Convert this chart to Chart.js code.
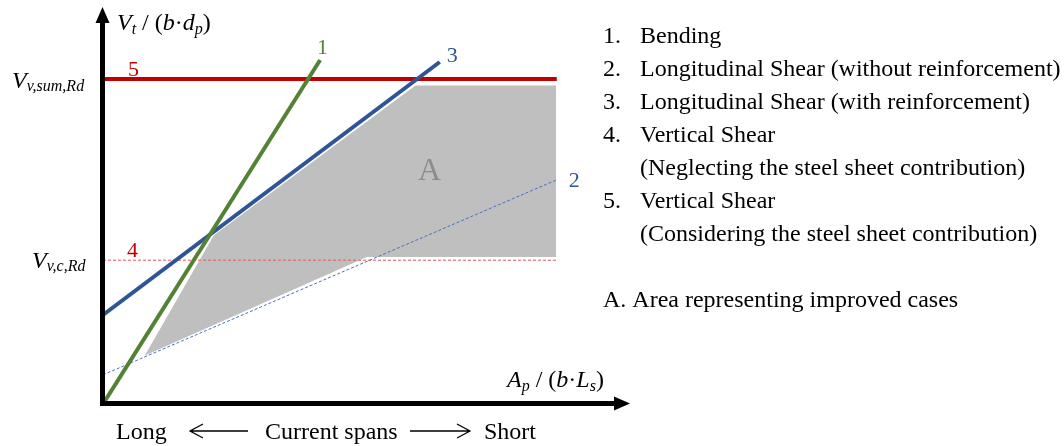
<!DOCTYPE html>
<html>
<head>
<meta charset="utf-8">
<script src="https://cdn.jsdelivr.net/npm/chart.js@4"></script>
<style>
  html, body { margin: 0; padding: 0; background: #fff; }
  #wrap { width: 1064px; height: 446px; }
</style>
</head>
<body>
<div id="wrap"><canvas id="chart" width="1064" height="446"></canvas></div>
<script>
// schematic values (axes 0..100)
const bendingX = [0, 41.2];
const bendingY = [0, 87.3];
const shearReinfX = [0, 63.9];
const shearReinfY = [22.6, 86.8];
const shearPlainX = [0, 86.1];
const shearPlainY = [7.4, 56.9];
const limitX = [0, 86.1];
const vSumRd = [82.5, 82.5];
const vcRd = [36.5, 36.5];
const areaX = [7.6, 20.9, 59.2, 86.1, 86.1, 50.1, 7.6];
const areaY = [11.9, 42.9, 81.0, 81.0, 37.1, 37.1, 11.9];

const legendNums = ['1.', '2.', '3.', '4.', '', '5.', '', '', ''];
const legendTexts = [
    'Bending',
    'Longitudinal Shear (without reinforcement)',
    'Longitudinal Shear (with reinforcement)',
    'Vertical Shear',
    '(Neglecting the steel sheet contribution)',
    'Vertical Shear',
    '(Considering the steel sheet contribution)',
    '',
    'A. Area representing improved cases'
];

const GREEN = '#548235';
const BLUE = '#2f5597';
const RED = '#c00000';
const SERIF = '"Liberation Serif", "Times New Roman", serif';

const zip = (xs, ys) => xs.map((x, i) => ({ x: x, y: ys[i] }));

function rich(ctx, x, y, segs, color) {
    ctx.fillStyle = color || '#000';
    segs.forEach(s => {
        ctx.font = (s.i ? 'italic ' : '') + s.s + 'px ' + SERIF;
        ctx.fillText(s.t, x, y + (s.dy || 0));
        x += ctx.measureText(s.t).width;
    });
}

function arrowHead(ctx, x, y, dir) {
    ctx.beginPath();
    if (dir === 'up') {
        ctx.moveTo(x, y);
        ctx.lineTo(x - 7, y + 16);
        ctx.lineTo(x + 7, y + 16);
    } else {
        ctx.moveTo(x, y);
        ctx.lineTo(x - 16, y - 7);
        ctx.lineTo(x - 16, y + 7);
    }
    ctx.closePath();
    ctx.fill();
}

function openArrow(ctx, x1, x2, y, left) {
    ctx.beginPath();
    ctx.moveTo(x1, y);
    ctx.lineTo(x2, y);
    const tip = left ? x1 : x2;
    const back = left ? tip + 13 : tip - 13;
    ctx.moveTo(back, y - 7);
    ctx.lineTo(tip, y);
    ctx.lineTo(back, y + 7);
    ctx.stroke();
}

const decor = {
    id: 'decor',
    afterDatasetsDraw(chart) {
        const ctx = chart.ctx;
        const xs = chart.scales.x, ys = chart.scales.y;
        const x0 = xs.getPixelForValue(0), y0 = ys.getPixelForValue(0);
        const xTop = xs.getPixelForValue(100), yTop = ys.getPixelForValue(100);
        ctx.save();

        // axes
        ctx.strokeStyle = '#000';
        ctx.fillStyle = '#000';
        ctx.lineWidth = 5;
        ctx.beginPath();
        ctx.moveTo(x0 - 0.5, y0 + 2);
        ctx.lineTo(x0 - 0.5, yTop + 10);
        ctx.moveTo(x0 - 3, y0 - 0.5);
        ctx.lineTo(xTop - 10, y0 - 0.5);
        ctx.stroke();
        arrowHead(ctx, x0 - 0.5, yTop - 3, 'up');
        arrowHead(ctx, xTop, y0 - 0.5, 'right');

        ctx.textBaseline = 'alphabetic';
        // axis labels
        rich(ctx, 117, 30, [
            { t: 'V', s: 24, i: true }, { t: 't', s: 16, i: true, dy: 4 },
            { t: ' / (', s: 24 }, { t: 'b', s: 24, i: true }, { t: '·', s: 24 },
            { t: 'd', s: 24, i: true }, { t: 'p', s: 16, i: true, dy: 4 }, { t: ')', s: 24 }
        ]);
        rich(ctx, 507, 387, [
            { t: 'A', s: 24, i: true }, { t: 'p', s: 16, i: true, dy: 4 },
            { t: ' / (', s: 24 }, { t: 'b', s: 24, i: true }, { t: '·', s: 24 },
            { t: 'L', s: 24, i: true }, { t: 's', s: 16, i: true, dy: 4 }, { t: ')', s: 24 }
        ]);
        rich(ctx, 12, 88, [{ t: 'V', s: 24, i: true }, { t: 'v,sum,Rd', s: 16, i: true, dy: 3 }]);
        rich(ctx, 32, 268, [{ t: 'V', s: 24, i: true }, { t: 'v,c,Rd', s: 16, i: true, dy: 3 }]);

        // curve numbers
        ctx.font = '22px ' + SERIF;
        ctx.fillStyle = RED;
        ctx.fillText('5', 128, ys.getPixelForValue(vSumRd[0]) - 3);
        ctx.fillText('4', 127, ys.getPixelForValue(vcRd[0]) - 3);
        ctx.fillStyle = GREEN;
        ctx.fillText('1', xs.getPixelForValue(bendingX[1]) - 3, ys.getPixelForValue(bendingY[1]) - 6);
        ctx.fillStyle = BLUE;
        ctx.fillText('3', xs.getPixelForValue(shearReinfX[1]) + 7, ys.getPixelForValue(shearReinfY[1]) + 0);
        ctx.fillText('2', xs.getPixelForValue(shearPlainX[1]) + 12, ys.getPixelForValue(shearPlainY[1]) + 7);
        ctx.font = '32px ' + SERIF;
        ctx.fillStyle = '#8c8c8c';
        ctx.fillText('A', 418, 180);

        // span direction
        ctx.fillStyle = '#000';
        ctx.font = '24px ' + SERIF;
        ctx.fillText('Long', 116, 439);
        ctx.fillText('Current spans', 265, 439);
        ctx.fillText('Short', 484, 439);
        ctx.lineWidth = 1.3;
        openArrow(ctx, 190, 248, 431, true);
        openArrow(ctx, 410, 470, 431, false);

        // list on the right
        ctx.font = '24px ' + SERIF;
        legendTexts.forEach((t, i) => {
            const y = 43 + i * 33;
            if (t.startsWith('A.')) {
                ctx.fillText(t, 603, y);
                return;
            }
            if (legendNums[i]) ctx.fillText(legendNums[i], 603, y);
            ctx.fillText(t, 640, y);
        });
        ctx.restore();
    }
};

const line = (label, xs, ys, color, width, dash) => ({
    label: label,
    data: zip(xs, ys),
    showLine: true,
    borderColor: color,
    borderWidth: width,
    borderDash: dash || [],
    pointRadius: 0,
    fill: false
});

new Chart(document.getElementById('chart'), {
    type: 'scatter',
    data: {
        datasets: [
            line('1', bendingX, bendingY, GREEN, 4),
            line('3', shearReinfX, shearReinfY, BLUE, 4),
            line('5', limitX, vSumRd, RED, 4),
            line('2', shearPlainX, shearPlainY, '#4a6fc0', 1, [3, 2]),
            line('4', limitX, vcRd, '#e8565a', 1, [3, 2]),
            {
                label: 'A',
                data: zip(areaX, areaY),
                showLine: true,
                borderColor: '#ffffff',
                borderWidth: 1.5,
                backgroundColor: '#bfbfbf',
                pointRadius: 0,
                fill: 'shape'
            }
        ]
    },
    options: {
        responsive: false,
        devicePixelRatio: 1,
        animation: false,
        layout: { padding: { left: 103, right: 434, top: 10, bottom: 42 } },
        plugins: { legend: { display: false }, tooltip: { enabled: false } },
        scales: {
            x: { type: 'linear', min: 0, max: 100, display: false },
            y: { type: 'linear', min: 0, max: 100, display: false }
        }
    },
    plugins: [decor]
});
</script>
</body>
</html>
